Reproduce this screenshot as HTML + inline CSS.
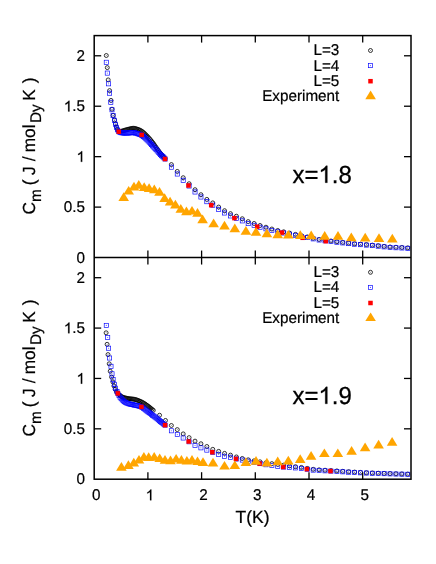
<!DOCTYPE html>
<html><head><meta charset="utf-8"><title>Cm vs T</title>
<style>html,body{margin:0;padding:0;background:#fff;overflow:hidden}svg{display:block;will-change:transform}text{text-rendering:geometricPrecision}</style></head>
<body>
<svg width="436" height="564" viewBox="0 0 436 564">
<style>.c{fill:none;stroke:#000;stroke-width:0.8}.cd{fill:#000;fill-opacity:0.5}.s{fill:none;stroke:#0000ff;stroke-width:0.66}.sd{fill:#0000ff;fill-opacity:0.65}</style>
<rect width="436" height="564" fill="#fff"/>
<circle cx="106.3" cy="55.5" r="1.98" class="c"/><circle cx="106.3" cy="55.5" r="0.5" class="cd"/>
<circle cx="107.3" cy="67.6" r="1.98" class="c"/><circle cx="107.3" cy="67.6" r="0.5" class="cd"/>
<circle cx="108.2" cy="79.9" r="1.98" class="c"/><circle cx="108.2" cy="79.9" r="0.5" class="cd"/>
<circle cx="109.6" cy="90.6" r="1.98" class="c"/><circle cx="109.6" cy="90.6" r="0.5" class="cd"/>
<circle cx="111" cy="100.4" r="1.98" class="c"/><circle cx="111" cy="100.4" r="0.5" class="cd"/>
<circle cx="112" cy="109.2" r="1.98" class="c"/><circle cx="112" cy="109.2" r="0.5" class="cd"/>
<circle cx="113.1" cy="115.4" r="1.98" class="c"/><circle cx="113.1" cy="115.4" r="0.5" class="cd"/>
<circle cx="114.5" cy="120.1" r="1.98" class="c"/><circle cx="114.5" cy="120.1" r="0.5" class="cd"/>
<circle cx="115.5" cy="124" r="1.98" class="c"/><circle cx="115.5" cy="124" r="0.5" class="cd"/>
<circle cx="116.4" cy="127.1" r="1.98" class="c"/><circle cx="116.4" cy="127.1" r="0.5" class="cd"/>
<circle cx="117.5" cy="129.5" r="1.98" class="c"/><circle cx="117.5" cy="129.5" r="0.5" class="cd"/>
<circle cx="118.8" cy="131.2" r="1.98" class="c"/><circle cx="118.8" cy="131.2" r="0.5" class="cd"/>
<circle cx="119.93" cy="131.2" r="1.98" class="c"/><circle cx="119.93" cy="131.2" r="0.5" class="cd"/>
<circle cx="121.06" cy="131.2" r="1.98" class="c"/><circle cx="121.06" cy="131.2" r="0.5" class="cd"/>
<circle cx="122.19" cy="131.04" r="1.98" class="c"/><circle cx="122.19" cy="131.04" r="0.5" class="cd"/>
<circle cx="123.32" cy="130.71" r="1.98" class="c"/><circle cx="123.32" cy="130.71" r="0.5" class="cd"/>
<circle cx="124.45" cy="130.33" r="1.98" class="c"/><circle cx="124.45" cy="130.33" r="0.5" class="cd"/>
<circle cx="125.58" cy="130.01" r="1.98" class="c"/><circle cx="125.58" cy="130.01" r="0.5" class="cd"/>
<circle cx="126.7" cy="129.68" r="1.98" class="c"/><circle cx="126.7" cy="129.68" r="0.5" class="cd"/>
<circle cx="127.83" cy="129.36" r="1.98" class="c"/><circle cx="127.83" cy="129.36" r="0.5" class="cd"/>
<circle cx="128.96" cy="129.09" r="1.98" class="c"/><circle cx="128.96" cy="129.09" r="0.5" class="cd"/>
<circle cx="130.09" cy="128.82" r="1.98" class="c"/><circle cx="130.09" cy="128.82" r="0.5" class="cd"/>
<circle cx="131.22" cy="128.56" r="1.98" class="c"/><circle cx="131.22" cy="128.56" r="0.5" class="cd"/>
<circle cx="132.35" cy="128.37" r="1.98" class="c"/><circle cx="132.35" cy="128.37" r="0.5" class="cd"/>
<circle cx="133.48" cy="128.3" r="1.98" class="c"/><circle cx="133.48" cy="128.3" r="0.5" class="cd"/>
<circle cx="134.61" cy="128.41" r="1.98" class="c"/><circle cx="134.61" cy="128.41" r="0.5" class="cd"/>
<circle cx="135.74" cy="128.67" r="1.98" class="c"/><circle cx="135.74" cy="128.67" r="0.5" class="cd"/>
<circle cx="136.87" cy="129.01" r="1.98" class="c"/><circle cx="136.87" cy="129.01" r="0.5" class="cd"/>
<circle cx="138" cy="129.36" r="1.98" class="c"/><circle cx="138" cy="129.36" r="0.5" class="cd"/>
<circle cx="139.13" cy="129.81" r="1.98" class="c"/><circle cx="139.13" cy="129.81" r="0.5" class="cd"/>
<circle cx="140.26" cy="130.37" r="1.98" class="c"/><circle cx="140.26" cy="130.37" r="0.5" class="cd"/>
<circle cx="141.39" cy="131.01" r="1.98" class="c"/><circle cx="141.39" cy="131.01" r="0.5" class="cd"/>
<circle cx="142.51" cy="131.76" r="1.98" class="c"/><circle cx="142.51" cy="131.76" r="0.5" class="cd"/>
<circle cx="143.64" cy="132.69" r="1.98" class="c"/><circle cx="143.64" cy="132.69" r="0.5" class="cd"/>
<circle cx="144.77" cy="133.75" r="1.98" class="c"/><circle cx="144.77" cy="133.75" r="0.5" class="cd"/>
<circle cx="145.9" cy="134.88" r="1.98" class="c"/><circle cx="145.9" cy="134.88" r="0.5" class="cd"/>
<circle cx="147.03" cy="136.03" r="1.98" class="c"/><circle cx="147.03" cy="136.03" r="0.5" class="cd"/>
<circle cx="148.16" cy="137.2" r="1.98" class="c"/><circle cx="148.16" cy="137.2" r="0.5" class="cd"/>
<circle cx="149.29" cy="138.44" r="1.98" class="c"/><circle cx="149.29" cy="138.44" r="0.5" class="cd"/>
<circle cx="150.42" cy="139.74" r="1.98" class="c"/><circle cx="150.42" cy="139.74" r="0.5" class="cd"/>
<circle cx="151.55" cy="141.09" r="1.98" class="c"/><circle cx="151.55" cy="141.09" r="0.5" class="cd"/>
<circle cx="152.68" cy="142.51" r="1.98" class="c"/><circle cx="152.68" cy="142.51" r="0.5" class="cd"/>
<circle cx="153.81" cy="144.05" r="1.98" class="c"/><circle cx="153.81" cy="144.05" r="0.5" class="cd"/>
<circle cx="154.94" cy="145.68" r="1.98" class="c"/><circle cx="154.94" cy="145.68" r="0.5" class="cd"/>
<circle cx="156.07" cy="147.35" r="1.98" class="c"/><circle cx="156.07" cy="147.35" r="0.5" class="cd"/>
<circle cx="157.2" cy="148.98" r="1.98" class="c"/><circle cx="157.2" cy="148.98" r="0.5" class="cd"/>
<circle cx="158.32" cy="150.54" r="1.98" class="c"/><circle cx="158.32" cy="150.54" r="0.5" class="cd"/>
<circle cx="159.45" cy="152" r="1.98" class="c"/><circle cx="159.45" cy="152" r="0.5" class="cd"/>
<circle cx="160.58" cy="153.43" r="1.98" class="c"/><circle cx="160.58" cy="153.43" r="0.5" class="cd"/>
<circle cx="161.71" cy="154.83" r="1.98" class="c"/><circle cx="161.71" cy="154.83" r="0.5" class="cd"/>
<circle cx="162.84" cy="156.18" r="1.98" class="c"/><circle cx="162.84" cy="156.18" r="0.5" class="cd"/>
<circle cx="163.97" cy="157.47" r="1.98" class="c"/><circle cx="163.97" cy="157.47" r="0.5" class="cd"/>
<circle cx="165.1" cy="158.7" r="1.98" class="c"/><circle cx="165.1" cy="158.7" r="0.5" class="cd"/>
<circle cx="171.38" cy="164.58" r="1.98" class="c"/><circle cx="171.38" cy="164.58" r="0.5" class="cd"/>
<circle cx="177.29" cy="171.41" r="1.98" class="c"/><circle cx="177.29" cy="171.41" r="0.5" class="cd"/>
<circle cx="183.2" cy="177.7" r="1.98" class="c"/><circle cx="183.2" cy="177.7" r="0.5" class="cd"/>
<circle cx="189.11" cy="183.71" r="1.98" class="c"/><circle cx="189.11" cy="183.71" r="0.5" class="cd"/>
<circle cx="195.02" cy="189.69" r="1.98" class="c"/><circle cx="195.02" cy="189.69" r="0.5" class="cd"/>
<circle cx="200.93" cy="194.69" r="1.98" class="c"/><circle cx="200.93" cy="194.69" r="0.5" class="cd"/>
<circle cx="206.84" cy="199.4" r="1.98" class="c"/><circle cx="206.84" cy="199.4" r="0.5" class="cd"/>
<circle cx="212.75" cy="202.9" r="1.98" class="c"/><circle cx="212.75" cy="202.9" r="0.5" class="cd"/>
<circle cx="218.66" cy="207.07" r="1.98" class="c"/><circle cx="218.66" cy="207.07" r="0.5" class="cd"/>
<circle cx="224.57" cy="210.69" r="1.98" class="c"/><circle cx="224.57" cy="210.69" r="0.5" class="cd"/>
<circle cx="230.48" cy="213.63" r="1.98" class="c"/><circle cx="230.48" cy="213.63" r="0.5" class="cd"/>
<circle cx="236.39" cy="216.2" r="1.98" class="c"/><circle cx="236.39" cy="216.2" r="0.5" class="cd"/>
<circle cx="242.3" cy="218.75" r="1.98" class="c"/><circle cx="242.3" cy="218.75" r="0.5" class="cd"/>
<circle cx="248.21" cy="221.59" r="1.98" class="c"/><circle cx="248.21" cy="221.59" r="0.5" class="cd"/>
<circle cx="254.12" cy="223.44" r="1.98" class="c"/><circle cx="254.12" cy="223.44" r="0.5" class="cd"/>
<circle cx="260.03" cy="225.47" r="1.98" class="c"/><circle cx="260.03" cy="225.47" r="0.5" class="cd"/>
<circle cx="265.94" cy="227.2" r="1.98" class="c"/><circle cx="265.94" cy="227.2" r="0.5" class="cd"/>
<circle cx="271.85" cy="229.02" r="1.98" class="c"/><circle cx="271.85" cy="229.02" r="0.5" class="cd"/>
<circle cx="277.76" cy="230.48" r="1.98" class="c"/><circle cx="277.76" cy="230.48" r="0.5" class="cd"/>
<circle cx="283.67" cy="231.8" r="1.98" class="c"/><circle cx="283.67" cy="231.8" r="0.5" class="cd"/>
<circle cx="289.58" cy="233.1" r="1.98" class="c"/><circle cx="289.58" cy="233.1" r="0.5" class="cd"/>
<circle cx="295.49" cy="234.38" r="1.98" class="c"/><circle cx="295.49" cy="234.38" r="0.5" class="cd"/>
<circle cx="301.4" cy="235.65" r="1.98" class="c"/><circle cx="301.4" cy="235.65" r="0.5" class="cd"/>
<circle cx="307.31" cy="236.92" r="1.98" class="c"/><circle cx="307.31" cy="236.92" r="0.5" class="cd"/>
<circle cx="313.22" cy="238.3" r="1.98" class="c"/><circle cx="313.22" cy="238.3" r="0.5" class="cd"/>
<circle cx="319.13" cy="239.48" r="1.98" class="c"/><circle cx="319.13" cy="239.48" r="0.5" class="cd"/>
<circle cx="325.04" cy="240.28" r="1.98" class="c"/><circle cx="325.04" cy="240.28" r="0.5" class="cd"/>
<circle cx="330.95" cy="240.98" r="1.98" class="c"/><circle cx="330.95" cy="240.98" r="0.5" class="cd"/>
<circle cx="336.86" cy="241.71" r="1.98" class="c"/><circle cx="336.86" cy="241.71" r="0.5" class="cd"/>
<circle cx="342.77" cy="242.42" r="1.98" class="c"/><circle cx="342.77" cy="242.42" r="0.5" class="cd"/>
<circle cx="348.68" cy="243.1" r="1.98" class="c"/><circle cx="348.68" cy="243.1" r="0.5" class="cd"/>
<circle cx="354.59" cy="243.71" r="1.98" class="c"/><circle cx="354.59" cy="243.71" r="0.5" class="cd"/>
<circle cx="360.5" cy="244.16" r="1.98" class="c"/><circle cx="360.5" cy="244.16" r="0.5" class="cd"/>
<circle cx="366.41" cy="244.59" r="1.98" class="c"/><circle cx="366.41" cy="244.59" r="0.5" class="cd"/>
<circle cx="372.32" cy="245.11" r="1.98" class="c"/><circle cx="372.32" cy="245.11" r="0.5" class="cd"/>
<circle cx="378.23" cy="245.67" r="1.98" class="c"/><circle cx="378.23" cy="245.67" r="0.5" class="cd"/>
<circle cx="384.14" cy="246.36" r="1.98" class="c"/><circle cx="384.14" cy="246.36" r="0.5" class="cd"/>
<circle cx="390.05" cy="246.97" r="1.98" class="c"/><circle cx="390.05" cy="246.97" r="0.5" class="cd"/>
<circle cx="395.96" cy="247.24" r="1.98" class="c"/><circle cx="395.96" cy="247.24" r="0.5" class="cd"/>
<circle cx="401.87" cy="247.47" r="1.98" class="c"/><circle cx="401.87" cy="247.47" r="0.5" class="cd"/>
<circle cx="407.78" cy="247.85" r="1.98" class="c"/><circle cx="407.78" cy="247.85" r="0.5" class="cd"/>
<rect x="104.22" y="60.22" width="4.15" height="4.15" class="s"/><circle cx="106.3" cy="62.3" r="0.55" class="sd"/>
<rect x="105.22" y="71.02" width="4.15" height="4.15" class="s"/><circle cx="107.3" cy="73.1" r="0.55" class="sd"/>
<rect x="106.52" y="81.72" width="4.15" height="4.15" class="s"/><circle cx="108.6" cy="83.8" r="0.55" class="sd"/>
<rect x="107.52" y="91.12" width="4.15" height="4.15" class="s"/><circle cx="109.6" cy="93.2" r="0.55" class="sd"/>
<rect x="108.72" y="100.22" width="4.15" height="4.15" class="s"/><circle cx="110.8" cy="102.3" r="0.55" class="sd"/>
<rect x="109.92" y="107.72" width="4.15" height="4.15" class="s"/><circle cx="112" cy="109.8" r="0.55" class="sd"/>
<rect x="111.02" y="113.52" width="4.15" height="4.15" class="s"/><circle cx="113.1" cy="115.6" r="0.55" class="sd"/>
<rect x="112.42" y="118.22" width="4.15" height="4.15" class="s"/><circle cx="114.5" cy="120.3" r="0.55" class="sd"/>
<rect x="113.42" y="122.12" width="4.15" height="4.15" class="s"/><circle cx="115.5" cy="124.2" r="0.55" class="sd"/>
<rect x="114.33" y="125.22" width="4.15" height="4.15" class="s"/><circle cx="116.4" cy="127.3" r="0.55" class="sd"/>
<rect x="115.42" y="127.73" width="4.15" height="4.15" class="s"/><circle cx="117.5" cy="129.8" r="0.55" class="sd"/>
<rect x="116.72" y="129.62" width="4.15" height="4.15" class="s"/><circle cx="118.8" cy="131.7" r="0.55" class="sd"/>
<rect x="117.85" y="130.26" width="4.15" height="4.15" class="s"/><circle cx="119.93" cy="132.34" r="0.55" class="sd"/>
<rect x="118.98" y="130.63" width="4.15" height="4.15" class="s"/><circle cx="121.06" cy="132.71" r="0.55" class="sd"/>
<rect x="120.11" y="130.77" width="4.15" height="4.15" class="s"/><circle cx="122.19" cy="132.85" r="0.55" class="sd"/>
<rect x="121.24" y="130.87" width="4.15" height="4.15" class="s"/><circle cx="123.32" cy="132.95" r="0.55" class="sd"/>
<rect x="122.37" y="130.92" width="4.15" height="4.15" class="s"/><circle cx="124.45" cy="133" r="0.55" class="sd"/>
<rect x="123.5" y="130.92" width="4.15" height="4.15" class="s"/><circle cx="125.58" cy="133" r="0.55" class="sd"/>
<rect x="124.63" y="130.9" width="4.15" height="4.15" class="s"/><circle cx="126.7" cy="132.97" r="0.55" class="sd"/>
<rect x="125.76" y="130.87" width="4.15" height="4.15" class="s"/><circle cx="127.83" cy="132.94" r="0.55" class="sd"/>
<rect x="126.89" y="130.83" width="4.15" height="4.15" class="s"/><circle cx="128.96" cy="132.9" r="0.55" class="sd"/>
<rect x="128.02" y="130.76" width="4.15" height="4.15" class="s"/><circle cx="130.09" cy="132.83" r="0.55" class="sd"/>
<rect x="129.15" y="130.65" width="4.15" height="4.15" class="s"/><circle cx="131.22" cy="132.73" r="0.55" class="sd"/>
<rect x="130.28" y="130.56" width="4.15" height="4.15" class="s"/><circle cx="132.35" cy="132.64" r="0.55" class="sd"/>
<rect x="131.41" y="130.53" width="4.15" height="4.15" class="s"/><circle cx="133.48" cy="132.6" r="0.55" class="sd"/>
<rect x="132.53" y="130.68" width="4.15" height="4.15" class="s"/><circle cx="134.61" cy="132.76" r="0.55" class="sd"/>
<rect x="133.66" y="131.01" width="4.15" height="4.15" class="s"/><circle cx="135.74" cy="133.09" r="0.55" class="sd"/>
<rect x="134.79" y="131.38" width="4.15" height="4.15" class="s"/><circle cx="136.87" cy="133.46" r="0.55" class="sd"/>
<rect x="135.92" y="131.73" width="4.15" height="4.15" class="s"/><circle cx="138" cy="133.81" r="0.55" class="sd"/>
<rect x="137.05" y="132.11" width="4.15" height="4.15" class="s"/><circle cx="139.13" cy="134.19" r="0.55" class="sd"/>
<rect x="138.18" y="132.55" width="4.15" height="4.15" class="s"/><circle cx="140.26" cy="134.62" r="0.55" class="sd"/>
<rect x="139.31" y="133.06" width="4.15" height="4.15" class="s"/><circle cx="141.39" cy="135.14" r="0.55" class="sd"/>
<rect x="140.44" y="133.72" width="4.15" height="4.15" class="s"/><circle cx="142.51" cy="135.79" r="0.55" class="sd"/>
<rect x="141.57" y="134.58" width="4.15" height="4.15" class="s"/><circle cx="143.64" cy="136.65" r="0.55" class="sd"/>
<rect x="142.7" y="135.59" width="4.15" height="4.15" class="s"/><circle cx="144.77" cy="137.66" r="0.55" class="sd"/>
<rect x="143.83" y="136.67" width="4.15" height="4.15" class="s"/><circle cx="145.9" cy="138.75" r="0.55" class="sd"/>
<rect x="144.96" y="137.75" width="4.15" height="4.15" class="s"/><circle cx="147.03" cy="139.83" r="0.55" class="sd"/>
<rect x="146.09" y="138.87" width="4.15" height="4.15" class="s"/><circle cx="148.16" cy="140.94" r="0.55" class="sd"/>
<rect x="147.22" y="140.05" width="4.15" height="4.15" class="s"/><circle cx="149.29" cy="142.13" r="0.55" class="sd"/>
<rect x="148.34" y="141.28" width="4.15" height="4.15" class="s"/><circle cx="150.42" cy="143.35" r="0.55" class="sd"/>
<rect x="149.47" y="142.52" width="4.15" height="4.15" class="s"/><circle cx="151.55" cy="144.59" r="0.55" class="sd"/>
<rect x="150.6" y="143.75" width="4.15" height="4.15" class="s"/><circle cx="152.68" cy="145.82" r="0.55" class="sd"/>
<rect x="151.73" y="145" width="4.15" height="4.15" class="s"/><circle cx="153.81" cy="147.08" r="0.55" class="sd"/>
<rect x="152.86" y="146.28" width="4.15" height="4.15" class="s"/><circle cx="154.94" cy="148.36" r="0.55" class="sd"/>
<rect x="153.99" y="147.57" width="4.15" height="4.15" class="s"/><circle cx="156.07" cy="149.64" r="0.55" class="sd"/>
<rect x="155.12" y="148.85" width="4.15" height="4.15" class="s"/><circle cx="157.2" cy="150.92" r="0.55" class="sd"/>
<rect x="156.25" y="150.11" width="4.15" height="4.15" class="s"/><circle cx="158.32" cy="152.19" r="0.55" class="sd"/>
<rect x="157.38" y="151.34" width="4.15" height="4.15" class="s"/><circle cx="159.45" cy="153.41" r="0.55" class="sd"/>
<rect x="158.51" y="152.52" width="4.15" height="4.15" class="s"/><circle cx="160.58" cy="154.59" r="0.55" class="sd"/>
<rect x="159.64" y="153.61" width="4.15" height="4.15" class="s"/><circle cx="161.71" cy="155.68" r="0.55" class="sd"/>
<rect x="160.77" y="154.66" width="4.15" height="4.15" class="s"/><circle cx="162.84" cy="156.73" r="0.55" class="sd"/>
<rect x="161.9" y="155.74" width="4.15" height="4.15" class="s"/><circle cx="163.97" cy="157.82" r="0.55" class="sd"/>
<rect x="163.03" y="156.93" width="4.15" height="4.15" class="s"/><circle cx="165.1" cy="159" r="0.55" class="sd"/>
<rect x="169.31" y="165.1" width="4.15" height="4.15" class="s"/><circle cx="171.38" cy="167.18" r="0.55" class="sd"/>
<rect x="175.22" y="171.94" width="4.15" height="4.15" class="s"/><circle cx="177.29" cy="174.01" r="0.55" class="sd"/>
<rect x="181.12" y="178.23" width="4.15" height="4.15" class="s"/><circle cx="183.2" cy="180.3" r="0.55" class="sd"/>
<rect x="187.04" y="183.93" width="4.15" height="4.15" class="s"/><circle cx="189.11" cy="186.01" r="0.55" class="sd"/>
<rect x="192.94" y="189.92" width="4.15" height="4.15" class="s"/><circle cx="195.02" cy="191.99" r="0.55" class="sd"/>
<rect x="198.86" y="194.92" width="4.15" height="4.15" class="s"/><circle cx="200.93" cy="196.99" r="0.55" class="sd"/>
<rect x="204.77" y="199.62" width="4.15" height="4.15" class="s"/><circle cx="206.84" cy="201.7" r="0.55" class="sd"/>
<rect x="210.68" y="203.12" width="4.15" height="4.15" class="s"/><circle cx="212.75" cy="205.2" r="0.55" class="sd"/>
<rect x="216.59" y="207.3" width="4.15" height="4.15" class="s"/><circle cx="218.66" cy="209.37" r="0.55" class="sd"/>
<rect x="222.5" y="210.92" width="4.15" height="4.15" class="s"/><circle cx="224.57" cy="212.99" r="0.55" class="sd"/>
<rect x="228.41" y="213.85" width="4.15" height="4.15" class="s"/><circle cx="230.48" cy="215.93" r="0.55" class="sd"/>
<rect x="234.31" y="216.39" width="4.15" height="4.15" class="s"/><circle cx="236.39" cy="218.46" r="0.55" class="sd"/>
<rect x="240.23" y="218.81" width="4.15" height="4.15" class="s"/><circle cx="242.3" cy="220.88" r="0.55" class="sd"/>
<rect x="246.13" y="221.52" width="4.15" height="4.15" class="s"/><circle cx="248.21" cy="223.59" r="0.55" class="sd"/>
<rect x="252.05" y="223.23" width="4.15" height="4.15" class="s"/><circle cx="254.12" cy="225.31" r="0.55" class="sd"/>
<rect x="257.96" y="225.13" width="4.15" height="4.15" class="s"/><circle cx="260.03" cy="227.21" r="0.55" class="sd"/>
<rect x="263.87" y="226.73" width="4.15" height="4.15" class="s"/><circle cx="265.94" cy="228.81" r="0.55" class="sd"/>
<rect x="269.78" y="228.42" width="4.15" height="4.15" class="s"/><circle cx="271.85" cy="230.49" r="0.55" class="sd"/>
<rect x="275.69" y="229.75" width="4.15" height="4.15" class="s"/><circle cx="277.76" cy="231.82" r="0.55" class="sd"/>
<rect x="281.6" y="230.93" width="4.15" height="4.15" class="s"/><circle cx="283.67" cy="233.01" r="0.55" class="sd"/>
<rect x="287.5" y="232.1" width="4.15" height="4.15" class="s"/><circle cx="289.58" cy="234.17" r="0.55" class="sd"/>
<rect x="293.42" y="233.25" width="4.15" height="4.15" class="s"/><circle cx="295.49" cy="235.32" r="0.55" class="sd"/>
<rect x="299.32" y="234.38" width="4.15" height="4.15" class="s"/><circle cx="301.4" cy="236.45" r="0.55" class="sd"/>
<rect x="305.24" y="235.52" width="4.15" height="4.15" class="s"/><circle cx="307.31" cy="237.6" r="0.55" class="sd"/>
<rect x="311.15" y="236.79" width="4.15" height="4.15" class="s"/><circle cx="313.22" cy="238.86" r="0.55" class="sd"/>
<rect x="317.06" y="237.91" width="4.15" height="4.15" class="s"/><circle cx="319.13" cy="239.98" r="0.55" class="sd"/>
<rect x="322.97" y="238.7" width="4.15" height="4.15" class="s"/><circle cx="325.04" cy="240.77" r="0.55" class="sd"/>
<rect x="328.88" y="239.41" width="4.15" height="4.15" class="s"/><circle cx="330.95" cy="241.48" r="0.55" class="sd"/>
<rect x="334.79" y="240.14" width="4.15" height="4.15" class="s"/><circle cx="336.86" cy="242.21" r="0.55" class="sd"/>
<rect x="340.69" y="240.84" width="4.15" height="4.15" class="s"/><circle cx="342.77" cy="242.92" r="0.55" class="sd"/>
<rect x="346.61" y="241.53" width="4.15" height="4.15" class="s"/><circle cx="348.68" cy="243.6" r="0.55" class="sd"/>
<rect x="352.52" y="242.13" width="4.15" height="4.15" class="s"/><circle cx="354.59" cy="244.21" r="0.55" class="sd"/>
<rect x="358.43" y="242.58" width="4.15" height="4.15" class="s"/><circle cx="360.5" cy="244.66" r="0.55" class="sd"/>
<rect x="364.34" y="243.02" width="4.15" height="4.15" class="s"/><circle cx="366.41" cy="245.09" r="0.55" class="sd"/>
<rect x="370.25" y="243.53" width="4.15" height="4.15" class="s"/><circle cx="372.32" cy="245.61" r="0.55" class="sd"/>
<rect x="376.16" y="244.1" width="4.15" height="4.15" class="s"/><circle cx="378.23" cy="246.17" r="0.55" class="sd"/>
<rect x="382.07" y="244.79" width="4.15" height="4.15" class="s"/><circle cx="384.14" cy="246.86" r="0.55" class="sd"/>
<rect x="387.98" y="245.4" width="4.15" height="4.15" class="s"/><circle cx="390.05" cy="247.47" r="0.55" class="sd"/>
<rect x="393.89" y="245.67" width="4.15" height="4.15" class="s"/><circle cx="395.96" cy="247.74" r="0.55" class="sd"/>
<rect x="399.8" y="245.9" width="4.15" height="4.15" class="s"/><circle cx="401.87" cy="247.97" r="0.55" class="sd"/>
<rect x="405.71" y="246.27" width="4.15" height="4.15" class="s"/><circle cx="407.78" cy="248.35" r="0.55" class="sd"/>
<rect x="116.55" y="129.45" width="4.5" height="4.5" fill="#ff0000"/>
<rect x="139.45" y="132.65" width="4.5" height="4.5" fill="#ff0000"/>
<rect x="162.75" y="156.75" width="4.5" height="4.5" fill="#ff0000"/>
<rect x="186.25" y="183.25" width="4.5" height="4.5" fill="#ff0000"/>
<rect x="208.95" y="202.95" width="4.5" height="4.5" fill="#ff0000"/>
<rect x="232.15" y="215.85" width="4.5" height="4.5" fill="#ff0000"/>
<rect x="254.95" y="224.45" width="4.5" height="4.5" fill="#ff0000"/>
<rect x="279.75" y="230.35" width="4.5" height="4.5" fill="#ff0000"/>
<rect x="300.35" y="235.55" width="4.5" height="4.5" fill="#ff0000"/>
<rect x="323.55" y="238.95" width="4.5" height="4.5" fill="#ff0000"/>
<path d="M123.7 192.2L129 200.9H118.4Z" fill="#ffa500"/>
<path d="M128.7 185.9L134 194.6H123.4Z" fill="#ffa500"/>
<path d="M134 181.7L139.3 190.4H128.7Z" fill="#ffa500"/>
<path d="M138.8 180L144.1 188.7H133.5Z" fill="#ffa500"/>
<path d="M144.2 182.2L149.5 190.9H138.9Z" fill="#ffa500"/>
<path d="M149.1 183.3L154.4 192H143.8Z" fill="#ffa500"/>
<path d="M154.3 184.6L159.6 193.3H149Z" fill="#ffa500"/>
<path d="M159.5 187.1L164.8 195.8H154.2Z" fill="#ffa500"/>
<path d="M164.6 193.3L169.9 202H159.3Z" fill="#ffa500"/>
<path d="M170.1 196.7L175.4 205.4H164.8Z" fill="#ffa500"/>
<path d="M175.4 199.8L180.7 208.5H170.1Z" fill="#ffa500"/>
<path d="M180.8 204.1L186.1 212.8H175.5Z" fill="#ffa500"/>
<path d="M186.4 206.5L191.7 215.2H181.1Z" fill="#ffa500"/>
<path d="M192 205.9L197.3 214.6H186.7Z" fill="#ffa500"/>
<path d="M197.5 208.1L202.8 216.8H192.2Z" fill="#ffa500"/>
<path d="M202.6 214.5L207.9 223.2H197.3Z" fill="#ffa500"/>
<path d="M213.6 218.5L218.9 227.2H208.3Z" fill="#ffa500"/>
<path d="M224.5 220.8L229.8 229.5H219.2Z" fill="#ffa500"/>
<path d="M234.8 223.6L240.1 232.3H229.5Z" fill="#ffa500"/>
<path d="M245.9 226.1L251.2 234.8H240.6Z" fill="#ffa500"/>
<path d="M256 227.1L261.3 235.8H250.7Z" fill="#ffa500"/>
<path d="M266.9 228.6L272.2 237.3H261.6Z" fill="#ffa500"/>
<path d="M277.7 229.6L283 238.3H272.4Z" fill="#ffa500"/>
<path d="M288.3 229.9L293.6 238.6H283Z" fill="#ffa500"/>
<path d="M300.3 230.2L305.6 238.9H295Z" fill="#ffa500"/>
<path d="M311.2 230.6L316.5 239.3H305.9Z" fill="#ffa500"/>
<path d="M324.7 231.1L330 239.8H319.4Z" fill="#ffa500"/>
<path d="M338 231.1L343.3 239.8H332.7Z" fill="#ffa500"/>
<path d="M351.3 232.5L356.6 241.2H346Z" fill="#ffa500"/>
<path d="M365.2 232.7L370.5 241.4H359.9Z" fill="#ffa500"/>
<path d="M379 233.3L384.3 242H373.7Z" fill="#ffa500"/>
<path d="M392.3 233.8L397.6 242.5H387Z" fill="#ffa500"/>
<circle cx="106.1" cy="332.8" r="1.98" class="c"/><circle cx="106.1" cy="332.8" r="0.5" class="cd"/>
<circle cx="107.1" cy="344.3" r="1.98" class="c"/><circle cx="107.1" cy="344.3" r="0.5" class="cd"/>
<circle cx="108" cy="354.6" r="1.98" class="c"/><circle cx="108" cy="354.6" r="0.5" class="cd"/>
<circle cx="109.2" cy="363.8" r="1.98" class="c"/><circle cx="109.2" cy="363.8" r="0.5" class="cd"/>
<circle cx="110.2" cy="371.2" r="1.98" class="c"/><circle cx="110.2" cy="371.2" r="0.5" class="cd"/>
<circle cx="111.6" cy="377.1" r="1.98" class="c"/><circle cx="111.6" cy="377.1" r="0.5" class="cd"/>
<circle cx="112.9" cy="382" r="1.98" class="c"/><circle cx="112.9" cy="382" r="0.5" class="cd"/>
<circle cx="113.9" cy="385.9" r="1.98" class="c"/><circle cx="113.9" cy="385.9" r="0.5" class="cd"/>
<circle cx="115.1" cy="389.2" r="1.98" class="c"/><circle cx="115.1" cy="389.2" r="0.5" class="cd"/>
<circle cx="116.5" cy="391.8" r="1.98" class="c"/><circle cx="116.5" cy="391.8" r="0.5" class="cd"/>
<circle cx="117.8" cy="393.2" r="1.98" class="c"/><circle cx="117.8" cy="393.2" r="0.5" class="cd"/>
<circle cx="118.91" cy="394.39" r="1.98" class="c"/><circle cx="118.91" cy="394.39" r="0.5" class="cd"/>
<circle cx="120.02" cy="395.46" r="1.98" class="c"/><circle cx="120.02" cy="395.46" r="0.5" class="cd"/>
<circle cx="121.13" cy="396.34" r="1.98" class="c"/><circle cx="121.13" cy="396.34" r="0.5" class="cd"/>
<circle cx="122.24" cy="396.97" r="1.98" class="c"/><circle cx="122.24" cy="396.97" r="0.5" class="cd"/>
<circle cx="123.35" cy="397.4" r="1.98" class="c"/><circle cx="123.35" cy="397.4" r="0.5" class="cd"/>
<circle cx="124.46" cy="397.75" r="1.98" class="c"/><circle cx="124.46" cy="397.75" r="0.5" class="cd"/>
<circle cx="125.57" cy="398.03" r="1.98" class="c"/><circle cx="125.57" cy="398.03" r="0.5" class="cd"/>
<circle cx="126.67" cy="398.27" r="1.98" class="c"/><circle cx="126.67" cy="398.27" r="0.5" class="cd"/>
<circle cx="127.78" cy="398.48" r="1.98" class="c"/><circle cx="127.78" cy="398.48" r="0.5" class="cd"/>
<circle cx="128.89" cy="398.65" r="1.98" class="c"/><circle cx="128.89" cy="398.65" r="0.5" class="cd"/>
<circle cx="130" cy="398.78" r="1.98" class="c"/><circle cx="130" cy="398.78" r="0.5" class="cd"/>
<circle cx="131.11" cy="398.89" r="1.98" class="c"/><circle cx="131.11" cy="398.89" r="0.5" class="cd"/>
<circle cx="132.22" cy="399" r="1.98" class="c"/><circle cx="132.22" cy="399" r="0.5" class="cd"/>
<circle cx="133.33" cy="399.14" r="1.98" class="c"/><circle cx="133.33" cy="399.14" r="0.5" class="cd"/>
<circle cx="134.44" cy="399.33" r="1.98" class="c"/><circle cx="134.44" cy="399.33" r="0.5" class="cd"/>
<circle cx="135.55" cy="399.59" r="1.98" class="c"/><circle cx="135.55" cy="399.59" r="0.5" class="cd"/>
<circle cx="136.66" cy="399.92" r="1.98" class="c"/><circle cx="136.66" cy="399.92" r="0.5" class="cd"/>
<circle cx="137.77" cy="400.32" r="1.98" class="c"/><circle cx="137.77" cy="400.32" r="0.5" class="cd"/>
<circle cx="138.88" cy="400.77" r="1.98" class="c"/><circle cx="138.88" cy="400.77" r="0.5" class="cd"/>
<circle cx="139.99" cy="401.25" r="1.98" class="c"/><circle cx="139.99" cy="401.25" r="0.5" class="cd"/>
<circle cx="141.1" cy="401.75" r="1.98" class="c"/><circle cx="141.1" cy="401.75" r="0.5" class="cd"/>
<circle cx="142.21" cy="402.3" r="1.98" class="c"/><circle cx="142.21" cy="402.3" r="0.5" class="cd"/>
<circle cx="143.32" cy="402.93" r="1.98" class="c"/><circle cx="143.32" cy="402.93" r="0.5" class="cd"/>
<circle cx="144.43" cy="403.62" r="1.98" class="c"/><circle cx="144.43" cy="403.62" r="0.5" class="cd"/>
<circle cx="145.53" cy="404.37" r="1.98" class="c"/><circle cx="145.53" cy="404.37" r="0.5" class="cd"/>
<circle cx="146.64" cy="405.14" r="1.98" class="c"/><circle cx="146.64" cy="405.14" r="0.5" class="cd"/>
<circle cx="147.75" cy="405.92" r="1.98" class="c"/><circle cx="147.75" cy="405.92" r="0.5" class="cd"/>
<circle cx="148.86" cy="406.74" r="1.98" class="c"/><circle cx="148.86" cy="406.74" r="0.5" class="cd"/>
<circle cx="149.97" cy="407.61" r="1.98" class="c"/><circle cx="149.97" cy="407.61" r="0.5" class="cd"/>
<circle cx="151.08" cy="408.52" r="1.98" class="c"/><circle cx="151.08" cy="408.52" r="0.5" class="cd"/>
<circle cx="152.19" cy="409.44" r="1.98" class="c"/><circle cx="152.19" cy="409.44" r="0.5" class="cd"/>
<circle cx="153.3" cy="410.34" r="1.98" class="c"/><circle cx="153.3" cy="410.34" r="0.5" class="cd"/>
<circle cx="159.56" cy="415.23" r="1.98" class="c"/><circle cx="159.56" cy="415.23" r="0.5" class="cd"/>
<circle cx="165.47" cy="420.45" r="1.98" class="c"/><circle cx="165.47" cy="420.45" r="0.5" class="cd"/>
<circle cx="171.38" cy="425.49" r="1.98" class="c"/><circle cx="171.38" cy="425.49" r="0.5" class="cd"/>
<circle cx="177.29" cy="429.61" r="1.98" class="c"/><circle cx="177.29" cy="429.61" r="0.5" class="cd"/>
<circle cx="183.2" cy="433.9" r="1.98" class="c"/><circle cx="183.2" cy="433.9" r="0.5" class="cd"/>
<circle cx="189.11" cy="437.65" r="1.98" class="c"/><circle cx="189.11" cy="437.65" r="0.5" class="cd"/>
<circle cx="195.02" cy="441.11" r="1.98" class="c"/><circle cx="195.02" cy="441.11" r="0.5" class="cd"/>
<circle cx="200.93" cy="443.75" r="1.98" class="c"/><circle cx="200.93" cy="443.75" r="0.5" class="cd"/>
<circle cx="206.84" cy="446.51" r="1.98" class="c"/><circle cx="206.84" cy="446.51" r="0.5" class="cd"/>
<circle cx="212.75" cy="449.34" r="1.98" class="c"/><circle cx="212.75" cy="449.34" r="0.5" class="cd"/>
<circle cx="218.66" cy="451.36" r="1.98" class="c"/><circle cx="218.66" cy="451.36" r="0.5" class="cd"/>
<circle cx="224.57" cy="453.39" r="1.98" class="c"/><circle cx="224.57" cy="453.39" r="0.5" class="cd"/>
<circle cx="230.48" cy="455.12" r="1.98" class="c"/><circle cx="230.48" cy="455.12" r="0.5" class="cd"/>
<circle cx="236.39" cy="456.93" r="1.98" class="c"/><circle cx="236.39" cy="456.93" r="0.5" class="cd"/>
<circle cx="242.3" cy="458.48" r="1.98" class="c"/><circle cx="242.3" cy="458.48" r="0.5" class="cd"/>
<circle cx="248.21" cy="459.82" r="1.98" class="c"/><circle cx="248.21" cy="459.82" r="0.5" class="cd"/>
<circle cx="254.12" cy="460.82" r="1.98" class="c"/><circle cx="254.12" cy="460.82" r="0.5" class="cd"/>
<circle cx="260.03" cy="461.81" r="1.98" class="c"/><circle cx="260.03" cy="461.81" r="0.5" class="cd"/>
<circle cx="265.94" cy="462.78" r="1.98" class="c"/><circle cx="265.94" cy="462.78" r="0.5" class="cd"/>
<circle cx="271.85" cy="463.66" r="1.98" class="c"/><circle cx="271.85" cy="463.66" r="0.5" class="cd"/>
<circle cx="277.76" cy="464.44" r="1.98" class="c"/><circle cx="277.76" cy="464.44" r="0.5" class="cd"/>
<circle cx="283.67" cy="465.15" r="1.98" class="c"/><circle cx="283.67" cy="465.15" r="0.5" class="cd"/>
<circle cx="289.58" cy="465.9" r="1.98" class="c"/><circle cx="289.58" cy="465.9" r="0.5" class="cd"/>
<circle cx="295.49" cy="466.71" r="1.98" class="c"/><circle cx="295.49" cy="466.71" r="0.5" class="cd"/>
<circle cx="301.4" cy="467.4" r="1.98" class="c"/><circle cx="301.4" cy="467.4" r="0.5" class="cd"/>
<circle cx="307.31" cy="468.4" r="1.98" class="c"/><circle cx="307.31" cy="468.4" r="0.5" class="cd"/>
<circle cx="313.22" cy="469.31" r="1.98" class="c"/><circle cx="313.22" cy="469.31" r="0.5" class="cd"/>
<circle cx="319.13" cy="469.81" r="1.98" class="c"/><circle cx="319.13" cy="469.81" r="0.5" class="cd"/>
<circle cx="325.04" cy="470.21" r="1.98" class="c"/><circle cx="325.04" cy="470.21" r="0.5" class="cd"/>
<circle cx="330.95" cy="470.56" r="1.98" class="c"/><circle cx="330.95" cy="470.56" r="0.5" class="cd"/>
<circle cx="336.86" cy="470.91" r="1.98" class="c"/><circle cx="336.86" cy="470.91" r="0.5" class="cd"/>
<circle cx="342.77" cy="471.3" r="1.98" class="c"/><circle cx="342.77" cy="471.3" r="0.5" class="cd"/>
<circle cx="348.68" cy="471.69" r="1.98" class="c"/><circle cx="348.68" cy="471.69" r="0.5" class="cd"/>
<circle cx="354.59" cy="472.06" r="1.98" class="c"/><circle cx="354.59" cy="472.06" r="0.5" class="cd"/>
<circle cx="360.5" cy="472.39" r="1.98" class="c"/><circle cx="360.5" cy="472.39" r="0.5" class="cd"/>
<circle cx="366.41" cy="472.68" r="1.98" class="c"/><circle cx="366.41" cy="472.68" r="0.5" class="cd"/>
<circle cx="372.32" cy="472.95" r="1.98" class="c"/><circle cx="372.32" cy="472.95" r="0.5" class="cd"/>
<circle cx="378.23" cy="473.19" r="1.98" class="c"/><circle cx="378.23" cy="473.19" r="0.5" class="cd"/>
<circle cx="384.14" cy="473.4" r="1.98" class="c"/><circle cx="384.14" cy="473.4" r="0.5" class="cd"/>
<circle cx="390.05" cy="473.6" r="1.98" class="c"/><circle cx="390.05" cy="473.6" r="0.5" class="cd"/>
<circle cx="395.96" cy="473.78" r="1.98" class="c"/><circle cx="395.96" cy="473.78" r="0.5" class="cd"/>
<circle cx="401.87" cy="473.94" r="1.98" class="c"/><circle cx="401.87" cy="473.94" r="0.5" class="cd"/>
<circle cx="407.78" cy="474.08" r="1.98" class="c"/><circle cx="407.78" cy="474.08" r="0.5" class="cd"/>
<rect x="104.22" y="323.32" width="4.15" height="4.15" class="s"/><circle cx="106.3" cy="325.4" r="0.55" class="sd"/>
<rect x="105.62" y="335.43" width="4.15" height="4.15" class="s"/><circle cx="107.7" cy="337.5" r="0.55" class="sd"/>
<rect x="106.52" y="346.12" width="4.15" height="4.15" class="s"/><circle cx="108.6" cy="348.2" r="0.55" class="sd"/>
<rect x="107.52" y="355.93" width="4.15" height="4.15" class="s"/><circle cx="109.6" cy="358" r="0.55" class="sd"/>
<rect x="108.92" y="364.23" width="4.15" height="4.15" class="s"/><circle cx="111" cy="366.3" r="0.55" class="sd"/>
<rect x="109.92" y="371.73" width="4.15" height="4.15" class="s"/><circle cx="112" cy="373.8" r="0.55" class="sd"/>
<rect x="111.02" y="377.53" width="4.15" height="4.15" class="s"/><circle cx="113.1" cy="379.6" r="0.55" class="sd"/>
<rect x="112.42" y="382.23" width="4.15" height="4.15" class="s"/><circle cx="114.5" cy="384.3" r="0.55" class="sd"/>
<rect x="113.42" y="386.12" width="4.15" height="4.15" class="s"/><circle cx="115.5" cy="388.2" r="0.55" class="sd"/>
<rect x="114.92" y="389.62" width="4.15" height="4.15" class="s"/><circle cx="117" cy="391.7" r="0.55" class="sd"/>
<rect x="115.72" y="391.32" width="4.15" height="4.15" class="s"/><circle cx="117.8" cy="393.4" r="0.55" class="sd"/>
<rect x="116.85" y="393.29" width="4.15" height="4.15" class="s"/><circle cx="118.93" cy="395.37" r="0.55" class="sd"/>
<rect x="117.98" y="395.08" width="4.15" height="4.15" class="s"/><circle cx="120.05" cy="397.16" r="0.55" class="sd"/>
<rect x="119.1" y="396.62" width="4.15" height="4.15" class="s"/><circle cx="121.18" cy="398.7" r="0.55" class="sd"/>
<rect x="120.23" y="397.83" width="4.15" height="4.15" class="s"/><circle cx="122.3" cy="399.9" r="0.55" class="sd"/>
<rect x="121.36" y="398.79" width="4.15" height="4.15" class="s"/><circle cx="123.43" cy="400.87" r="0.55" class="sd"/>
<rect x="122.48" y="399.65" width="4.15" height="4.15" class="s"/><circle cx="124.56" cy="401.72" r="0.55" class="sd"/>
<rect x="123.61" y="400.38" width="4.15" height="4.15" class="s"/><circle cx="125.68" cy="402.45" r="0.55" class="sd"/>
<rect x="124.73" y="400.98" width="4.15" height="4.15" class="s"/><circle cx="126.81" cy="403.05" r="0.55" class="sd"/>
<rect x="125.86" y="401.44" width="4.15" height="4.15" class="s"/><circle cx="127.94" cy="403.51" r="0.55" class="sd"/>
<rect x="126.99" y="401.78" width="4.15" height="4.15" class="s"/><circle cx="129.06" cy="403.86" r="0.55" class="sd"/>
<rect x="128.11" y="402.06" width="4.15" height="4.15" class="s"/><circle cx="130.19" cy="404.14" r="0.55" class="sd"/>
<rect x="129.24" y="402.3" width="4.15" height="4.15" class="s"/><circle cx="131.31" cy="404.37" r="0.55" class="sd"/>
<rect x="130.37" y="402.52" width="4.15" height="4.15" class="s"/><circle cx="132.44" cy="404.6" r="0.55" class="sd"/>
<rect x="131.49" y="402.75" width="4.15" height="4.15" class="s"/><circle cx="133.57" cy="404.83" r="0.55" class="sd"/>
<rect x="132.62" y="403.02" width="4.15" height="4.15" class="s"/><circle cx="134.69" cy="405.09" r="0.55" class="sd"/>
<rect x="133.74" y="403.28" width="4.15" height="4.15" class="s"/><circle cx="135.82" cy="405.35" r="0.55" class="sd"/>
<rect x="134.87" y="403.52" width="4.15" height="4.15" class="s"/><circle cx="136.95" cy="405.6" r="0.55" class="sd"/>
<rect x="136" y="403.78" width="4.15" height="4.15" class="s"/><circle cx="138.07" cy="405.86" r="0.55" class="sd"/>
<rect x="137.12" y="404.07" width="4.15" height="4.15" class="s"/><circle cx="139.2" cy="406.15" r="0.55" class="sd"/>
<rect x="138.25" y="404.41" width="4.15" height="4.15" class="s"/><circle cx="140.32" cy="406.49" r="0.55" class="sd"/>
<rect x="139.38" y="404.83" width="4.15" height="4.15" class="s"/><circle cx="141.45" cy="406.9" r="0.55" class="sd"/>
<rect x="140.5" y="405.43" width="4.15" height="4.15" class="s"/><circle cx="142.58" cy="407.5" r="0.55" class="sd"/>
<rect x="141.63" y="406.21" width="4.15" height="4.15" class="s"/><circle cx="143.7" cy="408.29" r="0.55" class="sd"/>
<rect x="142.75" y="407.11" width="4.15" height="4.15" class="s"/><circle cx="144.83" cy="409.19" r="0.55" class="sd"/>
<rect x="143.88" y="408.07" width="4.15" height="4.15" class="s"/><circle cx="145.95" cy="410.14" r="0.55" class="sd"/>
<rect x="145.01" y="409.01" width="4.15" height="4.15" class="s"/><circle cx="147.08" cy="411.08" r="0.55" class="sd"/>
<rect x="146.13" y="409.88" width="4.15" height="4.15" class="s"/><circle cx="148.21" cy="411.95" r="0.55" class="sd"/>
<rect x="147.26" y="410.7" width="4.15" height="4.15" class="s"/><circle cx="149.33" cy="412.78" r="0.55" class="sd"/>
<rect x="148.38" y="411.52" width="4.15" height="4.15" class="s"/><circle cx="150.46" cy="413.6" r="0.55" class="sd"/>
<rect x="149.51" y="412.34" width="4.15" height="4.15" class="s"/><circle cx="151.59" cy="414.42" r="0.55" class="sd"/>
<rect x="150.64" y="413.17" width="4.15" height="4.15" class="s"/><circle cx="152.71" cy="415.25" r="0.55" class="sd"/>
<rect x="151.76" y="414.02" width="4.15" height="4.15" class="s"/><circle cx="153.84" cy="416.09" r="0.55" class="sd"/>
<rect x="152.89" y="414.88" width="4.15" height="4.15" class="s"/><circle cx="154.96" cy="416.96" r="0.55" class="sd"/>
<rect x="154.02" y="415.78" width="4.15" height="4.15" class="s"/><circle cx="156.09" cy="417.85" r="0.55" class="sd"/>
<rect x="155.14" y="416.72" width="4.15" height="4.15" class="s"/><circle cx="157.22" cy="418.79" r="0.55" class="sd"/>
<rect x="156.27" y="417.68" width="4.15" height="4.15" class="s"/><circle cx="158.34" cy="419.75" r="0.55" class="sd"/>
<rect x="157.39" y="418.64" width="4.15" height="4.15" class="s"/><circle cx="159.47" cy="420.71" r="0.55" class="sd"/>
<rect x="158.52" y="419.58" width="4.15" height="4.15" class="s"/><circle cx="160.6" cy="421.65" r="0.55" class="sd"/>
<rect x="159.65" y="420.47" width="4.15" height="4.15" class="s"/><circle cx="161.72" cy="422.55" r="0.55" class="sd"/>
<rect x="160.77" y="421.34" width="4.15" height="4.15" class="s"/><circle cx="162.85" cy="423.41" r="0.55" class="sd"/>
<rect x="161.9" y="422.2" width="4.15" height="4.15" class="s"/><circle cx="163.97" cy="424.28" r="0.55" class="sd"/>
<rect x="163.03" y="423.09" width="4.15" height="4.15" class="s"/><circle cx="165.1" cy="425.17" r="0.55" class="sd"/>
<rect x="169.31" y="428.71" width="4.15" height="4.15" class="s"/><circle cx="171.38" cy="430.78" r="0.55" class="sd"/>
<rect x="175.22" y="432.5" width="4.15" height="4.15" class="s"/><circle cx="177.29" cy="434.58" r="0.55" class="sd"/>
<rect x="181.12" y="435.91" width="4.15" height="4.15" class="s"/><circle cx="183.2" cy="437.98" r="0.55" class="sd"/>
<rect x="187.04" y="439.69" width="4.15" height="4.15" class="s"/><circle cx="189.11" cy="441.77" r="0.55" class="sd"/>
<rect x="192.94" y="443.42" width="4.15" height="4.15" class="s"/><circle cx="195.02" cy="445.5" r="0.55" class="sd"/>
<rect x="198.86" y="445.75" width="4.15" height="4.15" class="s"/><circle cx="200.93" cy="447.83" r="0.55" class="sd"/>
<rect x="204.77" y="448.02" width="4.15" height="4.15" class="s"/><circle cx="206.84" cy="450.09" r="0.55" class="sd"/>
<rect x="210.68" y="450.29" width="4.15" height="4.15" class="s"/><circle cx="212.75" cy="452.37" r="0.55" class="sd"/>
<rect x="216.59" y="452.38" width="4.15" height="4.15" class="s"/><circle cx="218.66" cy="454.45" r="0.55" class="sd"/>
<rect x="222.5" y="454.21" width="4.15" height="4.15" class="s"/><circle cx="224.57" cy="456.28" r="0.55" class="sd"/>
<rect x="228.41" y="455.24" width="4.15" height="4.15" class="s"/><circle cx="230.48" cy="457.32" r="0.55" class="sd"/>
<rect x="234.31" y="456.92" width="4.15" height="4.15" class="s"/><circle cx="236.39" cy="459" r="0.55" class="sd"/>
<rect x="240.23" y="457.97" width="4.15" height="4.15" class="s"/><circle cx="242.3" cy="460.05" r="0.55" class="sd"/>
<rect x="246.13" y="459.11" width="4.15" height="4.15" class="s"/><circle cx="248.21" cy="461.18" r="0.55" class="sd"/>
<rect x="252.05" y="460.35" width="4.15" height="4.15" class="s"/><circle cx="254.12" cy="462.43" r="0.55" class="sd"/>
<rect x="257.96" y="461.57" width="4.15" height="4.15" class="s"/><circle cx="260.03" cy="463.65" r="0.55" class="sd"/>
<rect x="263.87" y="462.67" width="4.15" height="4.15" class="s"/><circle cx="265.94" cy="464.75" r="0.55" class="sd"/>
<rect x="269.78" y="463.38" width="4.15" height="4.15" class="s"/><circle cx="271.85" cy="465.46" r="0.55" class="sd"/>
<rect x="275.69" y="464.17" width="4.15" height="4.15" class="s"/><circle cx="277.76" cy="466.25" r="0.55" class="sd"/>
<rect x="281.6" y="464.96" width="4.15" height="4.15" class="s"/><circle cx="283.67" cy="467.04" r="0.55" class="sd"/>
<rect x="287.5" y="465.32" width="4.15" height="4.15" class="s"/><circle cx="289.58" cy="467.4" r="0.55" class="sd"/>
<rect x="293.42" y="465.83" width="4.15" height="4.15" class="s"/><circle cx="295.49" cy="467.91" r="0.55" class="sd"/>
<rect x="299.32" y="466.32" width="4.15" height="4.15" class="s"/><circle cx="301.4" cy="468.4" r="0.55" class="sd"/>
<rect x="305.24" y="467.14" width="4.15" height="4.15" class="s"/><circle cx="307.31" cy="469.22" r="0.55" class="sd"/>
<rect x="311.15" y="468.04" width="4.15" height="4.15" class="s"/><circle cx="313.22" cy="470.11" r="0.55" class="sd"/>
<rect x="317.06" y="468.43" width="4.15" height="4.15" class="s"/><circle cx="319.13" cy="470.51" r="0.55" class="sd"/>
<rect x="322.97" y="468.73" width="4.15" height="4.15" class="s"/><circle cx="325.04" cy="470.81" r="0.55" class="sd"/>
<rect x="328.88" y="469.03" width="4.15" height="4.15" class="s"/><circle cx="330.95" cy="471.1" r="0.55" class="sd"/>
<rect x="334.79" y="469.33" width="4.15" height="4.15" class="s"/><circle cx="336.86" cy="471.41" r="0.55" class="sd"/>
<rect x="340.69" y="469.73" width="4.15" height="4.15" class="s"/><circle cx="342.77" cy="471.8" r="0.55" class="sd"/>
<rect x="346.61" y="470.12" width="4.15" height="4.15" class="s"/><circle cx="348.68" cy="472.19" r="0.55" class="sd"/>
<rect x="352.52" y="470.44" width="4.15" height="4.15" class="s"/><circle cx="354.59" cy="472.51" r="0.55" class="sd"/>
<rect x="358.43" y="470.72" width="4.15" height="4.15" class="s"/><circle cx="360.5" cy="472.79" r="0.55" class="sd"/>
<rect x="364.34" y="470.97" width="4.15" height="4.15" class="s"/><circle cx="366.41" cy="473.05" r="0.55" class="sd"/>
<rect x="370.25" y="471.21" width="4.15" height="4.15" class="s"/><circle cx="372.32" cy="473.28" r="0.55" class="sd"/>
<rect x="376.16" y="471.41" width="4.15" height="4.15" class="s"/><circle cx="378.23" cy="473.49" r="0.55" class="sd"/>
<rect x="382.07" y="471.6" width="4.15" height="4.15" class="s"/><circle cx="384.14" cy="473.68" r="0.55" class="sd"/>
<rect x="387.98" y="471.78" width="4.15" height="4.15" class="s"/><circle cx="390.05" cy="473.85" r="0.55" class="sd"/>
<rect x="393.89" y="471.94" width="4.15" height="4.15" class="s"/><circle cx="395.96" cy="474.01" r="0.55" class="sd"/>
<rect x="399.8" y="472.08" width="4.15" height="4.15" class="s"/><circle cx="401.87" cy="474.16" r="0.55" class="sd"/>
<rect x="405.71" y="472.21" width="4.15" height="4.15" class="s"/><circle cx="407.78" cy="474.29" r="0.55" class="sd"/>
<rect x="115.55" y="391.15" width="4.5" height="4.5" fill="#ff0000"/>
<rect x="139.18" y="404.64" width="4.5" height="4.5" fill="#ff0000"/>
<rect x="162.81" y="422.89" width="4.5" height="4.5" fill="#ff0000"/>
<rect x="186.44" y="439.24" width="4.5" height="4.5" fill="#ff0000"/>
<rect x="210.07" y="449.96" width="4.5" height="4.5" fill="#ff0000"/>
<rect x="233.7" y="456.65" width="4.5" height="4.5" fill="#ff0000"/>
<rect x="257.33" y="461.31" width="4.5" height="4.5" fill="#ff0000"/>
<rect x="280.96" y="464.75" width="4.5" height="4.5" fill="#ff0000"/>
<rect x="304.59" y="466.9" width="4.5" height="4.5" fill="#ff0000"/>
<rect x="328.22" y="468.83" width="4.5" height="4.5" fill="#ff0000"/>
<path d="M121.4 462L126.7 470.7H116.1Z" fill="#ffa500"/>
<path d="M128.4 460.2L133.7 468.9H123.1Z" fill="#ffa500"/>
<path d="M133.8 457.7L139.1 466.4H128.5Z" fill="#ffa500"/>
<path d="M139 454.9L144.3 463.6H133.7Z" fill="#ffa500"/>
<path d="M143.9 452L149.2 460.7H138.6Z" fill="#ffa500"/>
<path d="M148.7 452.2L154 460.9H143.4Z" fill="#ffa500"/>
<path d="M154.2 452L159.5 460.7H148.9Z" fill="#ffa500"/>
<path d="M159.7 453.4L165 462.1H154.4Z" fill="#ffa500"/>
<path d="M165 455.1L170.3 463.8H159.7Z" fill="#ffa500"/>
<path d="M170.5 455.6L175.8 464.3H165.2Z" fill="#ffa500"/>
<path d="M176.1 453.9L181.4 462.6H170.8Z" fill="#ffa500"/>
<path d="M181.4 455.1L186.7 463.8H176.1Z" fill="#ffa500"/>
<path d="M186.9 455.9L192.2 464.6H181.6Z" fill="#ffa500"/>
<path d="M192 455.1L197.3 463.8H186.7Z" fill="#ffa500"/>
<path d="M197.5 456.4L202.8 465.1H192.2Z" fill="#ffa500"/>
<path d="M203 457.2L208.3 465.9H197.7Z" fill="#ffa500"/>
<path d="M213 457.8L218.3 466.5H207.7Z" fill="#ffa500"/>
<path d="M224.5 460.9L229.8 469.6H219.2Z" fill="#ffa500"/>
<path d="M234.8 460.4L240.1 469.1H229.5Z" fill="#ffa500"/>
<path d="M245.9 457.3L251.2 466H240.6Z" fill="#ffa500"/>
<path d="M256 456.1L261.3 464.8H250.7Z" fill="#ffa500"/>
<path d="M266.9 457.8L272.2 466.5H261.6Z" fill="#ffa500"/>
<path d="M277.7 456.6L283 465.3H272.4Z" fill="#ffa500"/>
<path d="M288.3 455.8L293.6 464.5H283Z" fill="#ffa500"/>
<path d="M300.2 454.3L305.5 463H294.9Z" fill="#ffa500"/>
<path d="M311.1 451.1L316.4 459.8H305.8Z" fill="#ffa500"/>
<path d="M324.4 448.4L329.7 457.1H319.1Z" fill="#ffa500"/>
<path d="M337.8 448.4L343.1 457.1H332.5Z" fill="#ffa500"/>
<path d="M351.6 446.1L356.9 454.8H346.3Z" fill="#ffa500"/>
<path d="M365.1 442.6L370.4 451.3H359.8Z" fill="#ffa500"/>
<path d="M378.6 439.8L383.9 448.5H373.3Z" fill="#ffa500"/>
<path d="M392.1 437.1L397.4 445.8H386.8Z" fill="#ffa500"/>
<rect x="94.2" y="35.6" width="316.8" height="443.6" fill="none" stroke="#000" stroke-width="1.5"/>
<path d="M94.2 257.55L411 257.55" stroke="#000" stroke-width="1.5" fill="none"/>
<path d="M147.9 35.6L147.9 42.6" stroke="#000" stroke-width="1.3" fill="none"/>
<path d="M147.9 250.55L147.9 264.55" stroke="#000" stroke-width="1.3" fill="none"/>
<path d="M147.9 472.2L147.9 479.2" stroke="#000" stroke-width="1.3" fill="none"/>
<path d="M201.6 35.6L201.6 42.6" stroke="#000" stroke-width="1.3" fill="none"/>
<path d="M201.6 250.55L201.6 264.55" stroke="#000" stroke-width="1.3" fill="none"/>
<path d="M201.6 472.2L201.6 479.2" stroke="#000" stroke-width="1.3" fill="none"/>
<path d="M255.3 35.6L255.3 42.6" stroke="#000" stroke-width="1.3" fill="none"/>
<path d="M255.3 250.55L255.3 264.55" stroke="#000" stroke-width="1.3" fill="none"/>
<path d="M255.3 472.2L255.3 479.2" stroke="#000" stroke-width="1.3" fill="none"/>
<path d="M309 35.6L309 42.6" stroke="#000" stroke-width="1.3" fill="none"/>
<path d="M309 250.55L309 264.55" stroke="#000" stroke-width="1.3" fill="none"/>
<path d="M309 472.2L309 479.2" stroke="#000" stroke-width="1.3" fill="none"/>
<path d="M362.7 35.6L362.7 42.6" stroke="#000" stroke-width="1.3" fill="none"/>
<path d="M362.7 250.55L362.7 264.55" stroke="#000" stroke-width="1.3" fill="none"/>
<path d="M362.7 472.2L362.7 479.2" stroke="#000" stroke-width="1.3" fill="none"/>
<path d="M94.2 207.11L101.2 207.11" stroke="#000" stroke-width="1.3" fill="none"/>
<path d="M404 207.11L411 207.11" stroke="#000" stroke-width="1.3" fill="none"/>
<path d="M94.2 156.66L101.2 156.66" stroke="#000" stroke-width="1.3" fill="none"/>
<path d="M404 156.66L411 156.66" stroke="#000" stroke-width="1.3" fill="none"/>
<path d="M94.2 106.22L101.2 106.22" stroke="#000" stroke-width="1.3" fill="none"/>
<path d="M404 106.22L411 106.22" stroke="#000" stroke-width="1.3" fill="none"/>
<path d="M94.2 55.78L101.2 55.78" stroke="#000" stroke-width="1.3" fill="none"/>
<path d="M404 55.78L411 55.78" stroke="#000" stroke-width="1.3" fill="none"/>
<path d="M94.2 428.82L101.2 428.82" stroke="#000" stroke-width="1.3" fill="none"/>
<path d="M404 428.82L411 428.82" stroke="#000" stroke-width="1.3" fill="none"/>
<path d="M94.2 378.45L101.2 378.45" stroke="#000" stroke-width="1.3" fill="none"/>
<path d="M404 378.45L411 378.45" stroke="#000" stroke-width="1.3" fill="none"/>
<path d="M94.2 328.08L101.2 328.08" stroke="#000" stroke-width="1.3" fill="none"/>
<path d="M404 328.08L411 328.08" stroke="#000" stroke-width="1.3" fill="none"/>
<path d="M94.2 277.7L101.2 277.7" stroke="#000" stroke-width="1.3" fill="none"/>
<path d="M404 277.7L411 277.7" stroke="#000" stroke-width="1.3" fill="none"/>
<text transform="translate(85 262.75) scale(0.978 1)" font-family="Liberation Sans, sans-serif" font-size="15.6" text-anchor="end" fill="#000" stroke="#000" stroke-width="0.22">0</text>
<text transform="translate(85 212.31) scale(0.978 1)" font-family="Liberation Sans, sans-serif" font-size="15.6" text-anchor="end" fill="#000" stroke="#000" stroke-width="0.22">0.5</text>
<path transform="translate(76.51 161.86) scale(0.007450 -0.007291)" d="M763 0H583V1147Q518 1085 412.5 1023T223 930V1104Q374 1175 487 1276T647 1472H763Z" fill="#000" stroke="#000" stroke-width="28.88"/>
<path transform="translate(63.79 111.42) scale(0.007450 -0.007291)" d="M763 0H583V1147Q518 1085 412.5 1023T223 930V1104Q374 1175 487 1276T647 1472H763Z" fill="#000" stroke="#000" stroke-width="28.88"/>
<text transform="translate(72.28 111.42) scale(0.978 1)" font-family="Liberation Sans, sans-serif" font-size="15.6" text-anchor="start" fill="#000" stroke="#000" stroke-width="0.22">.5</text>
<text transform="translate(85 60.98) scale(0.978 1)" font-family="Liberation Sans, sans-serif" font-size="15.6" text-anchor="end" fill="#000" stroke="#000" stroke-width="0.22">2</text>
<text transform="translate(85 484.4) scale(0.978 1)" font-family="Liberation Sans, sans-serif" font-size="15.6" text-anchor="end" fill="#000" stroke="#000" stroke-width="0.22">0</text>
<text transform="translate(85 434.02) scale(0.978 1)" font-family="Liberation Sans, sans-serif" font-size="15.6" text-anchor="end" fill="#000" stroke="#000" stroke-width="0.22">0.5</text>
<path transform="translate(76.51 383.65) scale(0.007450 -0.007291)" d="M763 0H583V1147Q518 1085 412.5 1023T223 930V1104Q374 1175 487 1276T647 1472H763Z" fill="#000" stroke="#000" stroke-width="28.88"/>
<path transform="translate(63.79 333.28) scale(0.007450 -0.007291)" d="M763 0H583V1147Q518 1085 412.5 1023T223 930V1104Q374 1175 487 1276T647 1472H763Z" fill="#000" stroke="#000" stroke-width="28.88"/>
<text transform="translate(72.28 333.28) scale(0.978 1)" font-family="Liberation Sans, sans-serif" font-size="15.6" text-anchor="start" fill="#000" stroke="#000" stroke-width="0.22">.5</text>
<text transform="translate(85 282.9) scale(0.978 1)" font-family="Liberation Sans, sans-serif" font-size="15.6" text-anchor="end" fill="#000" stroke="#000" stroke-width="0.22">2</text>
<text transform="translate(96.2 500.3) scale(0.978 1)" font-family="Liberation Sans, sans-serif" font-size="15.6" text-anchor="middle" fill="#000" stroke="#000" stroke-width="0.22">0</text>
<path transform="translate(145.66 500.3) scale(0.007450 -0.007291)" d="M763 0H583V1147Q518 1085 412.5 1023T223 930V1104Q374 1175 487 1276T647 1472H763Z" fill="#000" stroke="#000" stroke-width="28.88"/>
<text transform="translate(203.6 500.3) scale(0.978 1)" font-family="Liberation Sans, sans-serif" font-size="15.6" text-anchor="middle" fill="#000" stroke="#000" stroke-width="0.22">2</text>
<text transform="translate(257.3 500.3) scale(0.978 1)" font-family="Liberation Sans, sans-serif" font-size="15.6" text-anchor="middle" fill="#000" stroke="#000" stroke-width="0.22">3</text>
<text transform="translate(311 500.3) scale(0.978 1)" font-family="Liberation Sans, sans-serif" font-size="15.6" text-anchor="middle" fill="#000" stroke="#000" stroke-width="0.22">4</text>
<text transform="translate(364.7 500.3) scale(0.978 1)" font-family="Liberation Sans, sans-serif" font-size="15.6" text-anchor="middle" fill="#000" stroke="#000" stroke-width="0.22">5</text>
<text transform="translate(252.6 523.3) scale(1.0 1)" font-family="Liberation Sans, sans-serif" font-size="17.5" text-anchor="middle" fill="#000" stroke="#000" stroke-width="0.22">T(K)</text>
<text transform="translate(35.2 146.0) rotate(-90) scale(0.987 1)" font-family="Liberation Sans, sans-serif" font-size="17.5" text-anchor="middle" fill="#000" stroke="#000" stroke-width="0.22">C<tspan font-size="15.5" dy="5.3">m</tspan><tspan dy="-5.3" dx="-0.7"> (</tspan><tspan dx="-0.3"> J</tspan><tspan dx="0.3"> /</tspan><tspan dx="-0.7"> mol</tspan><tspan font-size="15.5" dy="5.3" dx="1.4">Dy</tspan><tspan dy="-5.3" dx="-1.2"> K</tspan><tspan dx="1.2"> )</tspan></text>
<text transform="translate(35.2 368.0) rotate(-90) scale(0.987 1)" font-family="Liberation Sans, sans-serif" font-size="17.5" text-anchor="middle" fill="#000" stroke="#000" stroke-width="0.22">C<tspan font-size="15.5" dy="5.3">m</tspan><tspan dy="-5.3" dx="-0.7"> (</tspan><tspan dx="-0.3"> J</tspan><tspan dx="0.3"> /</tspan><tspan dx="-0.7"> mol</tspan><tspan font-size="15.5" dy="5.3" dx="1.4">Dy</tspan><tspan dy="-5.3" dx="-1.2"> K</tspan><tspan dx="1.2"> )</tspan></text>
<text transform="translate(339.3 55.4) scale(0.978 1)" font-family="Liberation Sans, sans-serif" font-size="15.6" text-anchor="end" fill="#000" stroke="#000" stroke-width="0.22">L=3</text>
<text transform="translate(339.3 70.55) scale(0.978 1)" font-family="Liberation Sans, sans-serif" font-size="15.6" text-anchor="end" fill="#000" stroke="#000" stroke-width="0.22">L=4</text>
<text transform="translate(339.3 85.7) scale(0.978 1)" font-family="Liberation Sans, sans-serif" font-size="15.6" text-anchor="end" fill="#000" stroke="#000" stroke-width="0.22">L=5</text>
<text transform="translate(339.3 100.85) scale(0.978 1)" font-family="Liberation Sans, sans-serif" font-size="15.6" text-anchor="end" fill="#000" stroke="#000" stroke-width="0.22">Experiment</text>
<circle cx="370.5" cy="50.5" r="1.98" class="c"/><circle cx="370.5" cy="50.5" r="0.5" class="cd"/>
<rect x="368.43" y="63.52" width="4.15" height="4.15" class="s"/><circle cx="370.5" cy="65.6" r="0.55" class="sd"/>
<rect x="368.25" y="78.95" width="4.5" height="4.5" fill="#ff0000"/>
<path d="M370.6 90.6L375.9 99.3H365.3Z" fill="#ffa500"/>
<text transform="translate(339.3 277.2) scale(0.978 1)" font-family="Liberation Sans, sans-serif" font-size="15.6" text-anchor="end" fill="#000" stroke="#000" stroke-width="0.22">L=3</text>
<text transform="translate(339.3 292.35) scale(0.978 1)" font-family="Liberation Sans, sans-serif" font-size="15.6" text-anchor="end" fill="#000" stroke="#000" stroke-width="0.22">L=4</text>
<text transform="translate(339.3 307.5) scale(0.978 1)" font-family="Liberation Sans, sans-serif" font-size="15.6" text-anchor="end" fill="#000" stroke="#000" stroke-width="0.22">L=5</text>
<text transform="translate(339.3 322.65) scale(0.978 1)" font-family="Liberation Sans, sans-serif" font-size="15.6" text-anchor="end" fill="#000" stroke="#000" stroke-width="0.22">Experiment</text>
<circle cx="370.5" cy="272.3" r="1.98" class="c"/><circle cx="370.5" cy="272.3" r="0.5" class="cd"/>
<rect x="368.43" y="285.32" width="4.15" height="4.15" class="s"/><circle cx="370.5" cy="287.4" r="0.55" class="sd"/>
<rect x="368.25" y="300.75" width="4.5" height="4.5" fill="#ff0000"/>
<path d="M370.6 312.4L375.9 321.1H365.3Z" fill="#ffa500"/>
<text transform="translate(292.4 182.7) scale(0.975 1)" font-family="Liberation Sans, sans-serif" font-size="24.6" text-anchor="start" fill="#000" stroke="#000" stroke-width="0.3">x=</text>
<path transform="translate(318.4 182.7) scale(0.011711 -0.011498)" d="M763 0H583V1147Q518 1085 412.5 1023T223 930V1104Q374 1175 487 1276T647 1472H763Z" fill="#000" stroke="#000" stroke-width="24.98"/>
<text transform="translate(331.74 182.7) scale(0.975 1)" font-family="Liberation Sans, sans-serif" font-size="24.6" text-anchor="start" fill="#000" stroke="#000" stroke-width="0.3">.8</text>
<text transform="translate(292.4 403.8) scale(0.975 1)" font-family="Liberation Sans, sans-serif" font-size="24.6" text-anchor="start" fill="#000" stroke="#000" stroke-width="0.3">x=</text>
<path transform="translate(318.4 403.8) scale(0.011711 -0.011498)" d="M763 0H583V1147Q518 1085 412.5 1023T223 930V1104Q374 1175 487 1276T647 1472H763Z" fill="#000" stroke="#000" stroke-width="24.98"/>
<text transform="translate(331.74 403.8) scale(0.975 1)" font-family="Liberation Sans, sans-serif" font-size="24.6" text-anchor="start" fill="#000" stroke="#000" stroke-width="0.3">.9</text>
</svg>
</body></html>
